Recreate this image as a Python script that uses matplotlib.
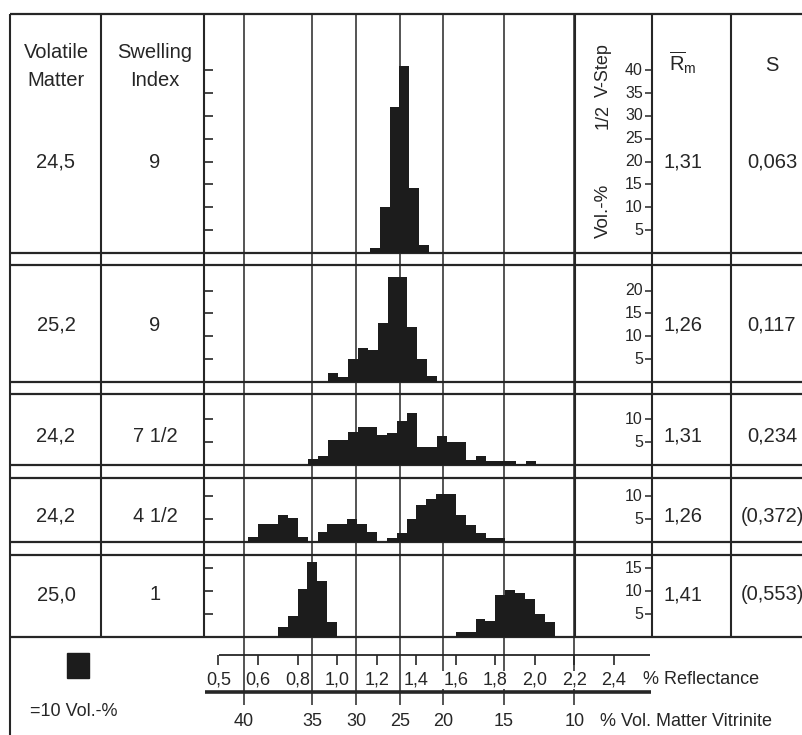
import numpy as np
import matplotlib
matplotlib.use("Agg")
import matplotlib.pyplot as plt
from matplotlib.patches import Rectangle

plt.rcParams["font.family"] = ["Liberation Sans", "DejaVu Sans"]
plt.rcParams["mathtext.fontset"] = "custom"
plt.rcParams["mathtext.rm"] = "Liberation Sans"
plt.rcParams["mathtext.it"] = "Liberation Sans:italic"

INK = "#262626"
BAR = "#1c1c1c"

# ---- table values ----
VOLATILE = ["24,5", "25,2", "24,2", "24,2", "25,0"]
SWELLING = ["9", "9", "7 1/2", "4 1/2", "1"]
R_MEAN = ["1,31", "1,26", "1,31", "1,26", "1,41"]
S_DEV = ["0,063", "0,117", "0,234", "(0,372)", "(0,553)"]

# ---- reflectance histograms (half V-step bins, Vol.-%) ----
BIN_W = 0.05
P1_START = 1.165
P1_VOL = [1.0, 10.0, 32.0, 41.0, 14.3, 1.7]
P2_START = 0.955
P2_VOL = [2.0, 1.2, 5.0, 7.5, 7.0, 13.0, 23.0, 23.0, 12.0, 5.0, 1.3]
P3_START = 0.854
P3_VOL = [1.3, 2.0, 5.4, 5.4, 7.2, 8.3, 8.3, 6.5, 7.1, 9.6, 11.4, 4.0,
          4.0, 6.3, 5.1, 5.1, 1.1, 2.0, 0.9, 0.9, 0.9, 0.3, 0.9]
P4_START = 0.551
P4_VOL = [1.0, 3.9, 3.9, 6.0, 5.2, 1.0, 0.0, 2.1, 3.9, 3.9, 5.0, 3.9, 2.1,
          0.0, 0.9, 2.0, 5.0, 8.0, 9.5, 10.4, 10.4, 6.0, 3.8, 2.0, 0.9, 0.9]
P5_START = 0.700
P5_VOL = [2.2, 4.5, 10.4, 16.5, 12.3, 3.2, 0, 0, 0, 0, 0, 0, 0, 0, 0, 0, 0, 0,
          1.1, 1.1, 3.9, 3.4, 9.2, 10.3, 9.6, 8.3, 5.0, 3.2]
STARTS = [P1_START, P2_START, P3_START, P4_START, P5_START]
VOLS = [P1_VOL, P2_VOL, P3_VOL, P4_VOL, P5_VOL]
Y_TICKS = [[5, 10, 15, 20, 25, 30, 35, 40], [5, 10, 15, 20], [5, 10], [5, 10],
           [5, 10, 15]]

# ---- bottom scales ----
REFL_POS = [0.40, 0.6, 0.8, 1.0, 1.2, 1.4, 1.6, 1.8, 2.0, 2.2, 2.4]
REFL_LABELS = ["0,5", "0,6", "0,8", "1,0", "1,2", "1,4", "1,6", "1,8", "2,0",
               "2,2", "2,4"]
VM_POS = [0.529, 0.873, 1.095, 1.318, 1.535, 1.844, 2.200]
VM_LABELS = ["40", "35", "30", "25", "20", "15", "10"]

# ---- layout (pixels) ----
W, H = 803, 735
ROWS = [(14, 253), (265, 382), (394, 465), (478, 542), (555, 637)]
ROW_TEXT_Y = [162, 325, 436, 516, 595]
COL_X = [10, 101, 204, 575, 652, 731]
PX_PER_VOL = 4.57


def r_of(px):
    return 0.6 + (px - 258) / 197.8


def box(x0, y0, x1, y1):
    return [x0 / W, 1 - y1 / H, (x1 - x0) / W, (y1 - y0) / H]


fig = plt.figure(figsize=(W / 100, H / 100), dpi=100)
fig.patch.set_facecolor("white")

bg = fig.add_axes([0, 0, 1, 1])
bg.set_xlim(0, W)
bg.set_ylim(H, 0)
bg.axis("off")

# table frame
for top, bot in ROWS:
    bg.hlines([top, bot], COL_X[0], W, color=INK, lw=1.6)
bg.vlines(COL_X, ROWS[0][0], ROWS[-1][1], color=INK, lw=1.5)
bg.vlines(COL_X[0], ROWS[-1][1], H, color=INK, lw=1.5)

fs = 14.5
bg.text(56, 52, "Volatile", ha="center", va="center", fontsize=fs, color=INK)
bg.text(56, 80, "Matter", ha="center", va="center", fontsize=fs, color=INK)
bg.text(155, 52, "Swelling", ha="center", va="center", fontsize=fs, color=INK)
bg.text(155, 80, "Index", ha="center", va="center", fontsize=fs, color=INK)
bg.text(683, 63, r"$\overline{\mathrm{R}}_{\mathrm{m}}$", ha="center",
        va="center", fontsize=fs, color=INK)
bg.text(772, 65, "S", ha="center", va="center", fontsize=fs, color=INK)
# rotated axis title of the Vol.-% scale
bg.text(603, 70, "V-Step", rotation=90, ha="center", va="center",
        fontsize=13, color=INK)
bg.text(603, 116, "1/2", rotation=90, ha="center", va="center",
        fontsize=13, color=INK)
bg.text(603, 211, "Vol.-%", rotation=90, ha="center", va="center",
        fontsize=13.5, color=INK)

for i, y in enumerate(ROW_TEXT_Y):
    bg.text(56, y, VOLATILE[i], ha="center", va="center", fontsize=fs, color=INK)
    bg.text(155, y, SWELLING[i], ha="center", va="center", fontsize=fs, color=INK)
    bg.text(683, y, R_MEAN[i], ha="center", va="center", fontsize=fs, color=INK)
    bg.text(772, y, S_DEV[i], ha="center", va="center", fontsize=fs, color=INK)

# legend square
bg.add_patch(Rectangle((67, 653), 22, 25, color=BAR))
bg.text(74, 712, "=10 Vol.-%", ha="center", va="center", fontsize=13, color=INK)

# reflectance / vitrinite scales + vertical VM grid
ax_x = fig.add_axes(box(204, 0, W, H))
ax_x.set_xlim(r_of(204), r_of(W))
ax_x.set_ylim(H, 0)
ax_x.axis("off")
ax_x.patch.set_alpha(0)
ax_x.vlines(VM_POS, ROWS[0][0], 705, color=INK, lw=1.1)
ax_x.hlines(655, r_of(219), r_of(650), color=INK, lw=1.3)
ax_x.vlines(REFL_POS, 655, 665, color=INK, lw=1.2)
ax_x.hlines(692, r_of(205), r_of(651), color=INK, lw=2.6)
for p, lab in zip(REFL_POS, REFL_LABELS):
    ax_x.text(p, 680, lab, ha="center", va="center", fontsize=13, color=INK,
              bbox=dict(facecolor="white", edgecolor="none", pad=0.6))
for p, lab in zip(VM_POS, VM_LABELS):
    ax_x.text(p, 722, lab, ha="center", va="center", fontsize=13, color=INK)
bg.text(643, 680, "% Reflectance", ha="left", va="center", fontsize=13, color=INK)
bg.text(600, 722, "% Vol. Matter Vitrinite", ha="left", va="center",
        fontsize=13, color=INK)

# histogram panels
for (top, bot), start, vol, ticks in zip(ROWS, STARTS, VOLS, Y_TICKS):
    ymax = (bot - top) / PX_PER_VOL
    ax = fig.add_axes(box(COL_X[2], top, COL_X[3], bot))
    ax.set_xlim(r_of(COL_X[2]), r_of(COL_X[3]))
    ax.set_ylim(0, ymax)
    ax.patch.set_alpha(0)
    for s in ax.spines.values():
        s.set_visible(False)
    edges = start + BIN_W * np.arange(len(vol) + 1)
    ax.stairs(vol, edges, fill=True, color=BAR, lw=0)
    ax.set_xticks([])
    ax.set_yticks(ticks)
    ax.tick_params(axis="y", direction="in", length=6.5, width=1.2,
                   color=INK, labelleft=False)

    axl = fig.add_axes(box(COL_X[3], top, COL_X[4], bot))
    axl.set_xlim(0, 1)
    axl.set_ylim(0, ymax)
    axl.patch.set_alpha(0)
    for s in axl.spines.values():
        s.set_visible(False)
    axl.set_xticks([])
    axl.set_yticks(ticks)
    axl.tick_params(axis="y", direction="in", length=5, width=1.1, color=INK,
                    left=False, right=True, labelleft=False, labelright=False)
    for v in ticks:
        axl.annotate(str(v), xy=(1, v), xycoords=("axes fraction", "data"),
                     xytext=(-6.5, 0), textcoords="offset points",
                     ha="right", va="center", fontsize=11.5, color=INK)

fig.savefig("out.png", dpi=100, facecolor="white")
